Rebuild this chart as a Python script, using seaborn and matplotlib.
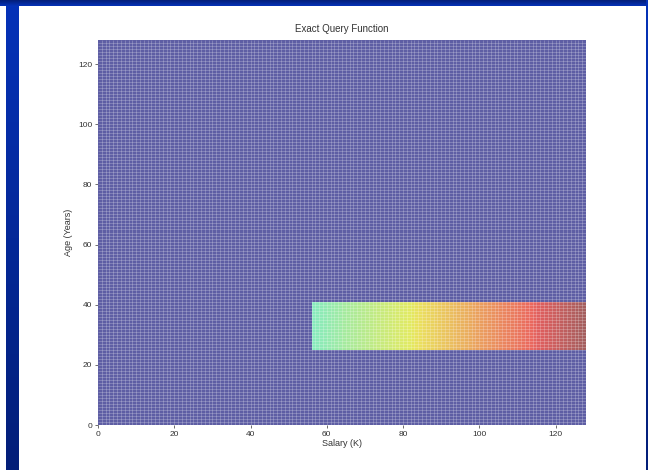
import numpy as np
import pandas as pd
import seaborn as sns
import matplotlib
matplotlib.use("Agg")
import matplotlib.pyplot as plt
from matplotlib.colors import LinearSegmentedColormap, ListedColormap

# Query grid: salary (K) along x, age (years) along y
salary = np.arange(128)
age = np.arange(128)

# Query region: the function returns the salary inside this box, 0 elsewhere
salary_low = 56
age_low, age_high = 25, 40

x_ticks = [0, 20, 40, 60, 80, 100, 120]
y_ticks = [0, 20, 40, 60, 80, 100, 120]

S, A = np.meshgrid(salary, age)
inside = (S >= salary_low) & (A >= age_low) & (A <= age_high)
values = np.where(inside, S, 0)
grid = pd.DataFrame(values, index=age, columns=salary)

# Softened jet colormap (jet blended toward a light grey)
jet = plt.get_cmap("jet")(np.linspace(0, 1, 256))[:, :3]
soft = jet * 0.55 + np.array([0.82, 0.82, 0.82]) * 0.45
soft_jet = ListedColormap(soft)

sns.set_theme(style="white")
plt.rcParams["font.family"] = ["Liberation Sans", "DejaVu Sans"]

fig = plt.figure(figsize=(6.48, 4.70), dpi=100)
fig.patch.set_facecolor("white")

# Blue slide frame behind the chart
frame = fig.add_axes([0, 0, 1, 1], zorder=-5)
frame.set_xlim(0, 648)
frame.set_ylim(470, 0)
frame.axis("off")
shade = LinearSegmentedColormap.from_list("frame", ["#0532b8", "#031e78"])
grad = np.linspace(0, 1, 256).reshape(-1, 1)
frame.imshow(grad, cmap=shade, extent=[0, 648, 0, 6], aspect="auto")
frame.imshow(grad, cmap=shade, extent=[6, 19, 470, 6], aspect="auto")
frame.imshow(grad, cmap=shade, extent=[646, 648, 470, 0], aspect="auto")

ax = fig.add_axes([98 / 648, 45 / 470, 488 / 648, 385 / 470])
sns.heatmap(grid, ax=ax, cmap=soft_jet, vmin=0, vmax=127, cbar=False,
            linewidths=0, xticklabels=False, yticklabels=False)
ax.invert_yaxis()

# Mesh lines between cells
edges = np.arange(1, 128)
ax.vlines(edges, 0, 128, colors="white", linewidth=0.5, alpha=0.3)
ax.hlines(edges, 0, 128, colors="white", linewidth=0.5, alpha=0.3)

ax.set_xticks(x_ticks)
ax.set_xticklabels([str(t) for t in x_ticks], rotation=0)
ax.set_yticks(y_ticks)
ax.set_yticklabels([str(t) for t in y_ticks], rotation=0)
ax.tick_params(axis="both", labelsize=6, colors="#333333", length=2,
               width=0.5, pad=2, bottom=True, left=True)
for s in ax.spines.values():
    s.set_visible(False)

ax.set_xlabel("Salary (K)", fontsize=6.5, color="#333333", labelpad=1)
ax.set_ylabel("Age (Years)", fontsize=6.5, color="#333333", labelpad=4)
ax.set_title("Exact Query Function", fontsize=7, color="#333333", pad=6)

fig.savefig("out.png", dpi=100)
